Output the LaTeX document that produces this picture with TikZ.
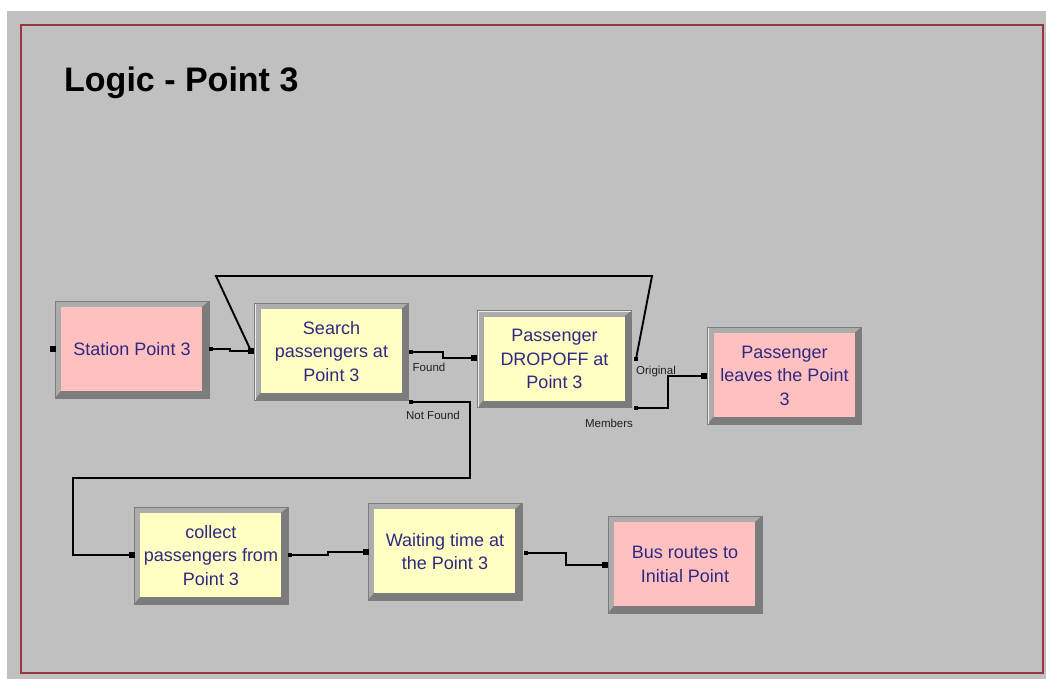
\documentclass[tikz,border=0pt]{standalone}
\usepackage{fontspec}
\setmainfont{Liberation Sans}
\definecolor{bgc}{HTML}{C0C0C0}
\definecolor{bordc}{RGB}{150,55,65}
\definecolor{pinkc}{HTML}{FFC0C0}
\definecolor{yelc}{HTML}{FFFFC4}
\definecolor{frmid}{HTML}{A0A0A0}
\definecolor{frlight}{HTML}{ACACAC}
\definecolor{frdark}{HTML}{7C7C7C}
\definecolor{txtc}{RGB}{48,40,130}
\definecolor{lblc}{HTML}{202020}
\tikzset{
  blk/.style={rectangle, minimum width=154pt, minimum height=97pt, inner sep=0pt,
    align=center, text=txtc, font=\fontsize{18}{23.5}\selectfont,
    fill=frmid, draw=frdark, line width=0.8pt,
    path picture={
      \fill[frlight] (path picture bounding box.north west) -- (path picture bounding box.north east)
        -- ([xshift=-7pt,yshift=-6pt]path picture bounding box.north east)
        -- ([xshift=6pt,yshift=-6pt]path picture bounding box.north west)
        -- ([xshift=6pt,yshift=7pt]path picture bounding box.south west)
        -- (path picture bounding box.south west) -- cycle;
      \fill[frdark] (path picture bounding box.south east) -- (path picture bounding box.north east)
        -- ([xshift=-7pt,yshift=-6pt]path picture bounding box.north east)
        -- ([xshift=-7pt,yshift=7pt]path picture bounding box.south east)
        -- ([xshift=6pt,yshift=7pt]path picture bounding box.south west)
        -- (path picture bounding box.south west) -- cycle;
      \draw[white!85!gray, line width=1pt] ([xshift=0.5pt,yshift=0.5pt]path picture bounding box.south west)
        -- ([xshift=0.5pt,yshift=-0.5pt]path picture bounding box.north west)
        -- ([xshift=-0.5pt,yshift=-0.5pt]path picture bounding box.north east);
      \fill[#1] ([xshift=6pt,yshift=-6pt]path picture bounding box.north west)
        rectangle ([xshift=-7pt,yshift=7pt]path picture bounding box.south east);
    }},
  conn/.style={draw=black, line width=1.9pt, line join=miter},
  inport/.style={rectangle, fill=black, minimum size=5.5pt, inner sep=0pt},
  outport/.style={rectangle, fill=black, minimum size=3.5pt, inner sep=0pt},
  plabel/.style={font=\fontsize{11.5}{14}\selectfont, text=lblc, inner sep=0pt},
}
\begin{document}
\begin{tikzpicture}[x=1pt,y=-1pt]
\useasboundingbox (0,0) rectangle (1046,679);
\fill[white] (0,0) rectangle (1046,679);
\fill[bgc] (7,11) rectangle (1046,679);
\draw[bordc, line width=2.5pt] (21,25) rectangle (1043,673);

\node[anchor=base west, inner sep=0pt, font=\fontsize{34}{40}\selectfont\bfseries] (title) at (64,92) {Logic - Point 3};

% blocks
\node[blk=pinkc] (st) at (132,349.5) {Station Point 3};
\node[blk=yelc]  (se) at (331.5,351.5) {Search\\passengers at\\Point 3};
\node[blk=yelc]  (dr) at (554.5,359) {Passenger\\DROPOFF at\\Point 3};
\node[blk=pinkc] (le) at (784.5,375.5) {Passenger\\leaves the Point\\3};
\node[blk=yelc]  (co) at (211,555.5) {collect\\passengers from\\Point 3};
\node[blk=yelc]  (wa) at (445,551.5) {Waiting time at\\the Point 3};
\node[blk=pinkc] (bu) at (685,564.5) {Bus routes to\\Initial Point};

% ports
\coordinate (st_in) at (53,349);
\coordinate (st_out) at (211,349);
\coordinate (se_in) at (251,351);
\coordinate (se_found) at (411,352);
\coordinate (se_nf) at (411,402);
\coordinate (dr_in) at (474,358);
\coordinate (dr_orig) at (636,359);
\coordinate (dr_mem) at (636,408);
\coordinate (le_in) at (704,376);
\coordinate (co_in) at (132,555);
\coordinate (co_out) at (290,555);
\coordinate (wa_in) at (366,552);
\coordinate (wa_out) at (526,553);
\coordinate (bu_in) at (605,565);
\coordinate (fbA) at (652,276);
\coordinate (fbB) at (216,276);
\coordinate (nfA) at (470,478);
\coordinate (nfB) at (73,478);

% connectors
\draw[conn] (st_out) -- ++(19,0) |- (se_in);
\draw[conn] (se_found) -- ++(32,0) |- (dr_in);
\draw[conn] (se_nf) -| (nfA) -- (nfB) |- (co_in);
\draw[conn] (dr_orig) -- (fbA) -- (fbB) -- (se_in);
\draw[conn] (dr_mem) -- ++(32,0) |- (le_in);
\draw[conn] (co_out) -- ++(38,0) |- (wa_in);
\draw[conn] (wa_out) -- ++(40,0) |- (bu_in);

% port markers
\node[inport] (m1) at (st_in) {};
\node[inport] (m2) at (se_in) {};
\node[inport] (m3) at (dr_in) {};
\node[inport] (m4) at (le_in) {};
\node[inport] (m5) at (co_in) {};
\node[inport] (m6) at (wa_in) {};
\node[inport] (m7) at (bu_in) {};
\node[outport] (o1) at (st_out) {};
\node[outport] (o2) at (se_found) {};
\node[outport] (o3) at (se_nf) {};
\node[outport] (o4) at (dr_orig) {};
\node[outport] (o5) at (dr_mem) {};
\node[outport] (o6) at (co_out) {};
\node[outport] (o7) at (wa_out) {};

% port labels
\node[plabel] (lf) at (429,367) {Found};
\node[plabel] (lnf) at (433,415) {Not Found};
\node[plabel] (lo) at (656,372) {Original};
\node[plabel] (lm) at (609,423) {Members};
\end{tikzpicture}
\end{document}
